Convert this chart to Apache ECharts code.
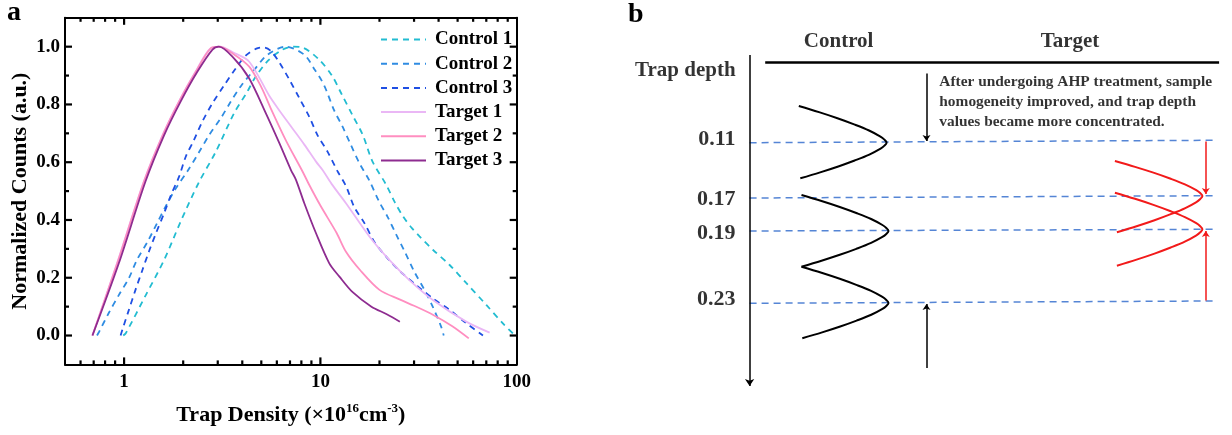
<!DOCTYPE html>
<html><head><meta charset="utf-8">
<script src="https://cdn.jsdelivr.net/npm/echarts@6/dist/echarts.min.js"></script>
<style>html,body{margin:0;padding:0;background:#fff}#c{width:1232px;height:435px}</style>
</head><body><div id="c"></div>
<script>
const FONT = '"Liberation Serif","Times New Roman",serif';

// ---------- Panel a data ----------
const seriesNames = ['Control 1','Control 2','Control 3','Target 1','Target 2','Target 3'];
const seriesColors = ['#22BCD1','#2F8CE2','#1F4FE3','#EAB7F5','#FF8EC0','#8E2C90'];
const seriesDashed = [true,true,true,false,false,false];

const control1 = [[0.99,0],[1.02,0.008],[1.29,0.14],[1.6,0.262],[1.94,0.394],[2.39,0.527],[2.93,0.636],[3.63,0.769],[4.25,0.845],[4.6,0.888],[5.38,0.95],[6.41,0.99],[7.2,1.0],[8.11,0.997],[9.85,0.955],[11.45,0.9],[12.78,0.838],[14.57,0.763],[16.45,0.694],[18.43,0.602],[21.63,0.522],[24,0.46],[26.5,0.41],[29,0.375],[32,0.343],[37.4,0.297],[45.4,0.245],[55.3,0.182],[70,0.106],[86.7,0.036],[98,0.0]];
const control2 = [[0.728,0],[0.746,0.013],[0.834,0.077],[0.94,0.14],[1.057,0.198],[1.163,0.262],[1.318,0.325],[1.472,0.389],[1.626,0.446],[1.829,0.508],[2.098,0.568],[2.415,0.636],[2.712,0.694],[3.106,0.752],[3.498,0.81],[3.95,0.865],[4.6,0.92],[5.38,0.972],[6.67,1.0],[8.28,0.972],[9.4,0.918],[10.1,0.885],[10.7,0.85],[11.74,0.78],[12.97,0.723],[14.29,0.66],[15.79,0.597],[17.77,0.536],[19.93,0.463],[22,0.411],[24.35,0.349],[27,0.288],[30.15,0.22],[33.89,0.158],[37.34,0.1],[41.25,0.03],[42.5,0.0]];
const control3 = [[0.96,0],[0.979,0.019],[1.057,0.088],[1.143,0.158],[1.24,0.227],[1.337,0.29],[1.453,0.354],[1.598,0.423],[1.732,0.486],[1.906,0.55],[2.06,0.619],[2.271,0.677],[2.501,0.74],[2.818,0.804],[3.239,0.867],[3.708,0.925],[4.176,0.97],[4.8,0.995],[5.17,0.997],[5.6,0.985],[6.17,0.946],[6.96,0.885],[7.81,0.822],[8.78,0.757],[9.66,0.694],[10.89,0.636],[12.2,0.57],[13.53,0.516],[14.85,0.446],[16.73,0.39],[18.8,0.325],[21.63,0.273],[25.3,0.224],[30.7,0.175],[37.34,0.129],[45.46,0.089],[55.3,0.043],[67.3,0.0]];
const target1 = [[0.69,0],[0.92,0.25],[1.26,0.533],[1.57,0.694],[1.9,0.81],[2.31,0.913],[2.76,0.995],[3.08,1.0],[3.6,0.98],[4.34,0.948],[5.49,0.83],[6.05,0.788],[7.21,0.717],[8.3,0.66],[9.5,0.602],[10.26,0.573],[11.4,0.525],[13.5,0.458],[17.8,0.342],[22.5,0.261],[28.4,0.192],[37.4,0.123],[55.3,0.048],[72.8,0.01]];
const target2 = [[0.69,0],[0.923,0.25],[1.263,0.533],[1.575,0.694],[1.906,0.81],[2.32,0.913],[2.77,0.995],[3.05,1.0],[3.6,0.975],[4.34,0.931],[5.0,0.86],[5.6,0.785],[6.68,0.675],[8.11,0.568],[8.78,0.521],[10,0.45],[12.1,0.355],[13.5,0.29],[16,0.225],[20,0.158],[25.3,0.125],[30,0.103],[37.4,0.072],[47,0.032],[57,-0.01]];
const target3 = [[0.69,0],[0.94,0.25],[1.285,0.533],[1.6,0.694],[1.94,0.81],[2.36,0.913],[2.82,0.99],[3.04,1.0],[3.6,0.962],[4.34,0.89],[5.27,0.77],[6.18,0.666],[7.08,0.573],[7.5,0.54],[8.28,0.458],[9.5,0.354],[11.1,0.25],[12.5,0.204],[14.6,0.15],[18.2,0.1],[21.9,0.073],[25.4,0.048]];
const seriesData = [control1, control2, control3, target1, target2, target3];

const xMajorLabels = [1, 10, 100];
const xMajorTicks = [1, 10];
const yMajorTicks = [0, 0.2, 0.4, 0.6, 0.8, 1.0];
const xMinorTicks = [0.6,0.7,0.8,0.9,2,3,4,5,6,7,8,9,20,30,40,50,60,70,80,90];
const yMinorTicks = [0.1,0.3,0.5,0.7,0.9];

// ---------- Panel b (schematic, in diagram units) ----------
const depthLabels = ['0.11','0.17','0.19','0.23'];
const depthLabelY = [139.5, 199, 233, 299.5];
const depthLineLeftY = [142.7, 198, 231, 303.3];
const depthLineRightY = [140.3, 195.7, 229.3, 301];
// arcs: [topX, topY, apexX, apexY, bottomX, bottomY]
const controlArcs = [[798.8,106,886.6,142.7,800.3,178.3],[801.5,195,888.5,231,801.5,266.7],[801.5,266.7,888.5,303,802.3,338.3]];
const targetArcs = [[1114.9,161,1202.4,196,1116.9,232.3],[1114.9,192.7,1202.4,229.3,1116.9,265.7]];
const arcHalf = [[-1,-1],[-0.77,-0.833],[-0.56,-0.667],[-0.37,-0.5],[-0.2,-0.333],[-0.07,-0.167],[-0.025,-0.083],[0,0]];
const noteLines = ['After undergoing AHP treatment, sample','homogeneity improved, and trap depth','values became more concentrated.'];

function arcPoints(a){
  const [tx,ty,ax,ay,bx,by] = a;
  const top = arcHalf.map(([fx,fy]) => [ax + fx*(ax-tx), ay + fy*(ay-ty)]);
  const bot = arcHalf.slice(0,-1).reverse().map(([fx,fy]) => [ax + fx*(ax-bx), ay - fy*(by-ay)]);
  return top.concat(bot);
}

const bold = {fontFamily: FONT, fontWeight: 'bold', color: '#000'};
const TICK_COLOR = '#000';

const series = [];
seriesNames.forEach((n,i) => {
  series.push({
    name: n, type: 'line', xAxisIndex: 0, yAxisIndex: 0,
    data: seriesData[i], symbol: 'none', smooth: 0.3,
    lineStyle: {color: seriesColors[i], width: 1.8, type: seriesDashed[i] ? [6,5] : 'solid'},
    itemStyle: {color: seriesColors[i]},
    z: seriesDashed[i] ? 3 : 4
  });
});

// ticks drawn through the axes' own scales (x on bottom/top, y on left/right)
function xTickSeries(values, len){
  return {
    type: 'custom', xAxisIndex: 0, yAxisIndex: 0, silent: true, clip: false, z: 20,
    data: values.map(v => [v, 0.5]), encode: {x: 0, y: 1},
    renderItem(params, api){
      const x = api.coord([api.value(0), 0.5])[0];
      const yb = api.coord([1, -0.1])[1], yt = api.coord([1, 1.1])[1];
      const st = {stroke: TICK_COLOR, lineWidth: 2.2};
      return {type: 'group', children: [
        {type: 'line', shape: {x1: x, y1: yb, x2: x, y2: yb - len}, style: st},
        {type: 'line', shape: {x1: x, y1: yt, x2: x, y2: yt + len}, style: st}
      ]};
    }
  };
}
function yTickSeries(values, len){
  return {
    type: 'custom', xAxisIndex: 0, yAxisIndex: 0, silent: true, clip: false, z: 20,
    data: values.map(v => [1, v]), encode: {x: 0, y: 1},
    renderItem(params, api){
      const y = api.coord([1, api.value(1)])[1];
      const xl = api.coord([0.5, 0])[0], xr = api.coord([100, 0])[0];
      const st = {stroke: TICK_COLOR, lineWidth: 2.2};
      return {type: 'group', children: [
        {type: 'line', shape: {x1: xl, y1: y, x2: xl + len, y2: y}, style: st},
        {type: 'line', shape: {x1: xr, y1: y, x2: xr - len, y2: y}, style: st}
      ]};
    }
  };
}
series.push(xTickSeries(xMajorTicks, 7));
series.push(xTickSeries(xMinorTicks, 4));
series.push(yTickSeries(yMajorTicks, 7));
series.push(yTickSeries(yMinorTicks, 4));

// ---------- Panel b series ----------
const bAx = {xAxisIndex: 2, yAxisIndex: 2};
series.push(Object.assign({
  type: 'lines', coordinateSystem: 'cartesian2d', silent: true, z: 2,
  data: depthLineLeftY.map((y,i) => ({coords: [[749.6, y], [1213.3, depthLineRightY[i]]]})),
  lineStyle: {color: '#5585D5', width: 1.5, type: [7,5], opacity: 1}
}, bAx));
series.push(Object.assign({
  type: 'lines', coordinateSystem: 'cartesian2d', silent: true, z: 3,
  data: [{coords: [[749.6, 55], [749.6, 386]]}],
  symbol: ['none','arrow'], symbolSize: 7,
  lineStyle: {color: '#000', width: 1.5, opacity: 1}
}, bAx));
series.push(Object.assign({
  type: 'lines', coordinateSystem: 'cartesian2d', silent: true, z: 3,
  data: [{coords: [[765.2, 62.3], [1219.1, 62.3]]}],
  lineStyle: {color: '#000', width: 2.5, opacity: 1}
}, bAx));
series.push(Object.assign({
  type: 'lines', coordinateSystem: 'cartesian2d', silent: true, z: 3,
  data: [{coords: [[926.5, 73.5], [926.5, 141]]}, {coords: [[926.5, 368], [926.5, 304]]}],
  symbol: ['none','arrow'], symbolSize: 6,
  lineStyle: {color: '#000', width: 1.5, opacity: 1}
}, bAx));
series.push(Object.assign({
  type: 'lines', coordinateSystem: 'cartesian2d', silent: true, z: 3,
  data: [{coords: [[1205.8, 141.5], [1205.8, 194]]}, {coords: [[1205.8, 300.5], [1205.8, 231]]}],
  symbol: ['none','arrow'], symbolSize: 6,
  lineStyle: {color: '#F21A1A', width: 1.5, opacity: 1}
}, bAx));
controlArcs.forEach(a => series.push(Object.assign({
  type: 'line', data: arcPoints(a), symbol: 'none', smooth: 0.35, silent: true, z: 4,
  lineStyle: {color: '#000', width: 2}
}, bAx)));
targetArcs.forEach(a => series.push(Object.assign({
  type: 'line', data: arcPoints(a), symbol: 'none', smooth: 0.35, silent: true, z: 4,
  lineStyle: {color: '#F21A1A', width: 2}
}, bAx)));
const textItems = [
  {value: [838.6, 42], label: {position: 'inside', fontSize: 21, ...bold, formatter: 'Control'}},
  {value: [1070, 42], label: {position: 'inside', fontSize: 21, ...bold, formatter: 'Target'}},
  {value: [685.3, 70.7], label: {position: 'inside', fontSize: 21, ...bold, formatter: 'Trap depth'}},
  {value: [939.3, 101.7], label: {position: 'right', distance: 0, fontSize: 15.4, lineHeight: 20, align: 'left', ...bold, formatter: noteLines.join('\n')}}
].concat(depthLabels.map((t,i) => ({value: [735.5, depthLabelY[i]], label: {position: 'left', distance: 0, fontSize: 22, ...bold, formatter: t}})));
series.push(Object.assign({
  type: 'scatter', symbolSize: 0, silent: true, clip: false, z: 5,
  data: textItems, label: {show: true}
}, bAx));

const axisLineStyle = {onZero: false, lineStyle: {color: '#000', width: 2}};

const option = {
  animation: false,
  backgroundColor: '#fff',
  title: [
    {text: 'a', left: 7, top: -1, padding: 0, textStyle: {fontSize: 28, ...bold}},
    {text: 'b', left: 628, top: 1, padding: 0, textStyle: {fontSize: 28, ...bold}}
  ],
  legend: {
    data: seriesNames, orient: 'vertical', left: 380, top: 29.5,
    itemWidth: 45, itemHeight: 14, itemGap: 4.2, padding: 0,
    itemStyle: {opacity: 0, borderWidth: 0},
    textStyle: {fontSize: 19, lineHeight: 20, padding: [0,0,0,4], ...bold},
    selectedMode: false
  },
  grid: [
    {left: 65, top: 17.8, width: 451.7, height: 346.6},
    {left: 620, top: 0, width: 612, height: 435}
  ],
  xAxis: [
    {type: 'log', logBase: 10, gridIndex: 0, min: 0.5, max: 100, position: 'bottom',
     axisLine: axisLineStyle, axisTick: {show: false}, splitLine: {show: false},
     axisLabel: {margin: 8, fontSize: 19, ...bold,
       formatter: v => { const m = xMajorLabels.find(t => Math.abs(v - t) / t < 1e-6); return m ? String(m) : ''; }},
     name: 'Trap Density (×10{sup|16}cm{sup|-3})', nameLocation: 'middle', nameGap: 38,
     nameTextStyle: {fontSize: 22, lineHeight: 26, ...bold,
       rich: {sup: {fontSize: 13, lineHeight: 26, verticalAlign: 'top', ...bold}}}},
    {type: 'log', logBase: 10, gridIndex: 0, min: 0.5, max: 100, position: 'top',
     axisLine: axisLineStyle, axisTick: {show: false}, axisLabel: {show: false}, splitLine: {show: false}},
    {type: 'value', gridIndex: 1, min: 620, max: 1232, show: false}
  ],
  yAxis: [
    {type: 'value', gridIndex: 0, min: -0.1, max: 1.1, position: 'left',
     axisLine: axisLineStyle, axisTick: {show: false}, splitLine: {show: false},
     axisLabel: {margin: 5, fontSize: 19, ...bold,
       formatter: v => { const k = Math.round(v * 10); if (Math.abs(v*10 - k) > 1e-6 || k % 2 !== 0 || k < 0 || k > 10) return ''; return (k/10).toFixed(1); }},
     name: 'Normalized Counts (a.u.)', nameLocation: 'middle', nameGap: 34, nameRotate: 90,
     nameTextStyle: {fontSize: 22, ...bold}},
    {type: 'value', gridIndex: 0, min: -0.1, max: 1.1, position: 'right',
     axisLine: axisLineStyle, axisTick: {show: false}, axisLabel: {show: false}, splitLine: {show: false}},
    {type: 'value', gridIndex: 1, min: 0, max: 435, inverse: true, show: false}
  ],
  series: series
};

const chart = echarts.init(document.getElementById('c'), null, {renderer: 'canvas'});
chart.setOption(option);
</script>
</body></html>
